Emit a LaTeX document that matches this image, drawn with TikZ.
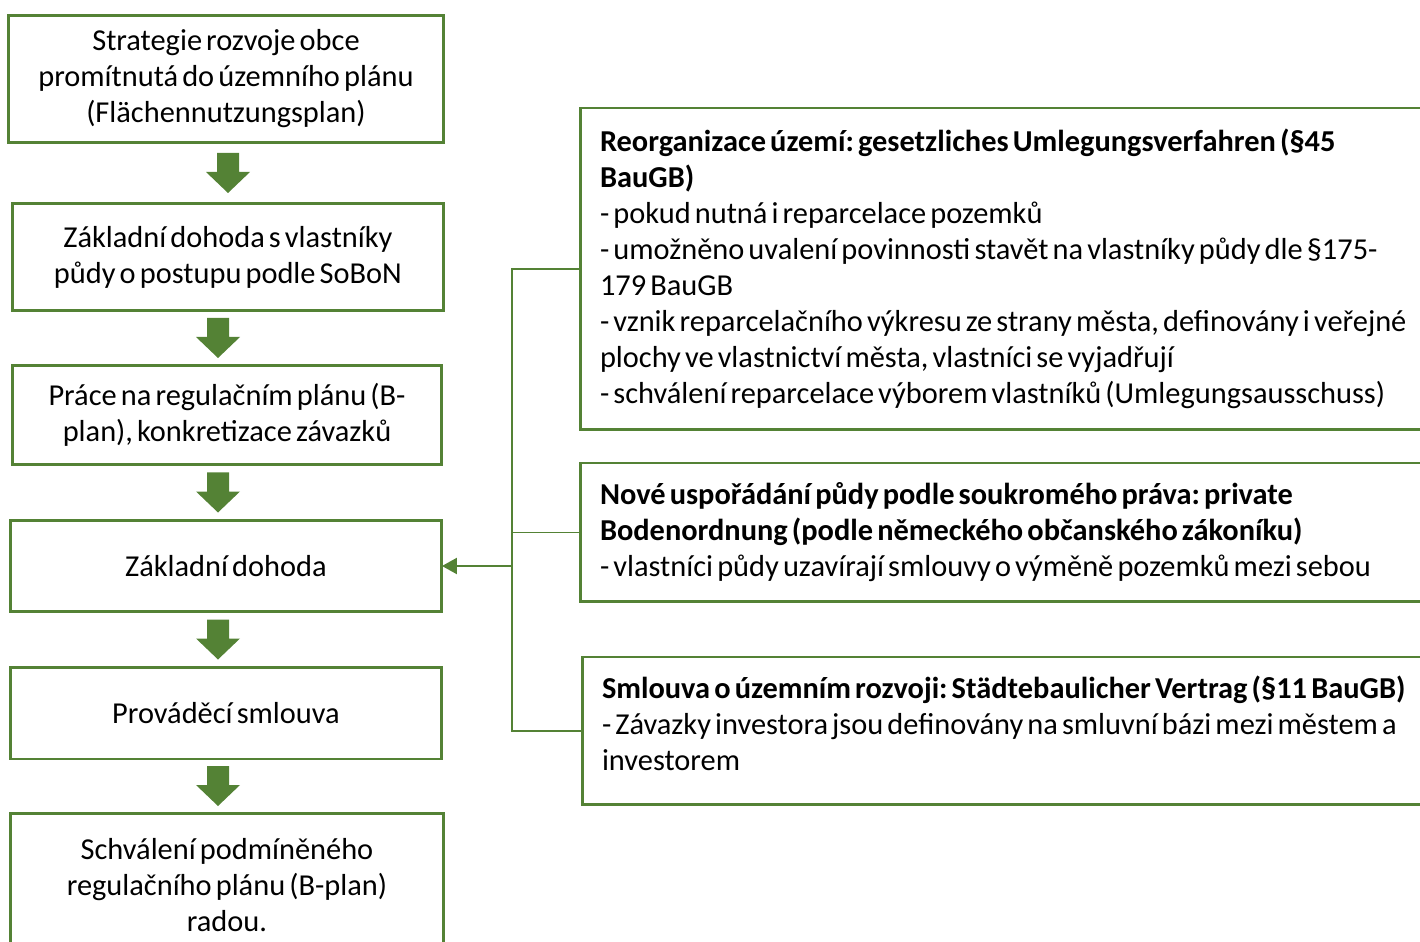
\documentclass[tikz,border=0pt]{standalone}
\usepackage{fontspec}
\setmainfont{Carlito}[WordSpace=0.6]
\usepackage{tikz}
\usetikzlibrary{calc,arrows.meta}
\definecolor{leaf}{RGB}{84,130,53}
\def\stepdown(#1)(#2)#3{\coordinate (ax) at (#3,0); \path ($(#1.south)!0.5!(#2.north)$) coordinate (mid);
	\fill[leaf, shift={(ax |- mid)}] (-11,-20) -- (11,-20) -- (11,-1) -- (22,-1) -- (0,20) -- (-22,-1) -- (-11,-1) -- cycle;}
\frenchspacing

\begin{document}
\begin{tikzpicture}[x=0.02cm, y=-0.02cm,
	lbox/.style={draw=leaf, line width=1.7pt, align=center, inner sep=0pt, outer sep=0pt, font=\fontsize{17.3}{20.5}\selectfont},
	rbox/.style={draw=leaf, line width=1.7pt, anchor=north west, align=flush left, text width=20cm, inner xsep=0.4cm, inner ysep=0pt, outer sep=0pt, font=\fontsize{17.3}{20.5}\selectfont},
	link/.style={draw=leaf, line width=0.9pt},
	feed/.style={draw=leaf, line width=1.3pt, -{Triangle[length=0.3cm,width=0.32cm]}}]
		%%%%% START %%%%%
		\useasboundingbox (0,0) rectangle (1420,942);
		\clip (0,0) rectangle (1420,942);
		
		% left column
		\node[lbox, minimum width=8.72cm, minimum height=2.56cm] (z1) at (226,79) {Strategie rozvoje obce\\promítnutá do územního plánu\\(Flächennutzungsplan)};
		\node[lbox, minimum width=8.64cm, minimum height=2.16cm] (z2) at (228,257) {Základní dohoda s vlastníky\\půdy o postupu podle SoBoN};
		\node[lbox, minimum width=8.6cm, minimum height=2.0cm] (z3) at (227,415) {Práce na regulačním plánu (B-\\plan), konkretizace závazků};
		\node[lbox, minimum width=8.64cm, minimum height=1.84cm] (z4) at (226,566) {Základní dohoda};
		\node[lbox, minimum width=8.64cm, minimum height=1.84cm] (z5) at (226,713) {Prováděcí smlouva};
		\node[lbox, minimum width=8.68cm, minimum height=2.88cm] (z6) at (227,885) {Schválení podmíněného\\regulačního plánu (B-plan)\\radou.};
		
		\stepdown(z1)(z2){228}
		\stepdown(z2)(z3){218}
		\stepdown(z3)(z4){218}
		\stepdown(z4)(z5){218}
		\stepdown(z5)(z6){218}
		
		% right column
		\node[rbox, minimum height=6.44cm] (rA) at (580,108) {\textbf{Reorganizace území: gesetzliches Umlegungsverfahren (§45}\\\textbf{BauGB)}\\- pokud nutná i reparcelace pozemků\\- umožněno uvalení povinnosti stavět na vlastníky půdy dle §175-\\179 BauGB\\- vznik reparcelačního výkresu ze strany města, definovány i veřejné\\plochy ve vlastnictví města, vlastníci se vyjadřují\\- schválení reparcelace výborem vlastníků (Umlegungsausschuss)};
		\node[rbox, minimum height=2.78cm] (rB) at (580,463) {\textbf{Nové uspořádání půdy podle soukromého práva: private}\\\textbf{Bodenordnung (podle německého občanského zákoníku)}\\- vlastníci půdy uzavírají smlouvy o výměně pozemků mezi sebou};
		\node[rbox, minimum height=2.96cm] (rC) at (582,657) {\textbf{Smlouva o územním rozvoji: Städtebaulicher Vertrag (§11 BauGB)}\\- Závazky investora jsou definovány na smluvní bázi mezi městem a\\investorem\rule[-0.32cm]{0pt}{0pt}};
		
		\coordinate (spine) at (512,0);
		\draw[link] (rA.west) -- (rA.west -| spine) -- (rC.west -| spine) -- (rC.west);
		\draw[link] (rB.west) -- (rB.west -| spine);
		\draw[feed] (z4.east -| spine) -- (z4.east);
		%%%%% END %%%%%
\end{tikzpicture}
\end{document}
